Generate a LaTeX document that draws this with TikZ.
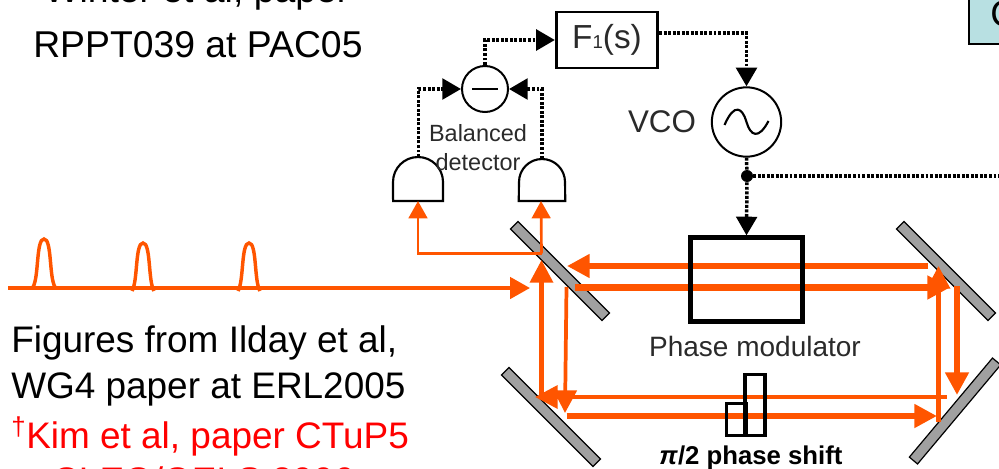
\documentclass[tikz,border=0pt]{standalone}
\usepackage{fontspec}
\setmainfont{Liberation Sans}
\usepackage{xcolor}
\usetikzlibrary{arrows.meta,positioning,calc}
\definecolor{beamOr}{HTML}{FF5500}
\definecolor{mirGray}{HTML}{A0A0A0}
\definecolor{noteBox}{HTML}{B8E0E2}
\definecolor{lblGray}{HTML}{2A2A2A}

\begin{document}
\begin{tikzpicture}[x=0.75pt,y=-0.75pt,
  mirror/.style={rectangle,draw=black,fill=mirGray,line width=0.9pt,minimum width=97pt,minimum height=8pt,inner sep=0pt},
  beamA/.style={beamOr,line width=4.8pt,-{Triangle[length=17pt,width=17pt]}},
  beamB/.style={beamOr,line width=3.4pt,-{Triangle[length=17pt,width=17pt]}},
  beamC/.style={beamOr,line width=2pt,-{Triangle[length=13pt,width=14pt]}},
  sig/.style={black,line width=2.6pt,dash pattern=on 2.2pt off 1.2pt,-{Triangle[length=14pt,width=15.5pt]}},
  sigline/.style={black,line width=2.6pt,dash pattern=on 2.2pt off 1.2pt},
  detect/.style={rectangle,minimum width=37pt,minimum height=16pt,inner sep=0pt},
  circ/.style={circle,draw=black,line width=1.5pt,inner sep=0pt},
  txt/.style={anchor=base west,inner sep=0pt,font=\fontsize{27.7}{27.7}\selectfont},
  lbl/.style={inner sep=0pt,text=lblGray,font=\fontsize{17.6}{17.6}\selectfont}]
  \useasboundingbox (0,0) rectangle (999,468);
  \clip (0,0) rectangle (999,468);

  % side notes
  \node[txt,font=\fontsize{28}{28}\selectfont] (winter) at (44,2) {Winter et al, paper};
  \node[txt,font=\fontsize{28}{28}\selectfont] (rppt) at (33,57) {RPPT039 at PAC05};
  \node[txt] (figs) at (11,352) {Figures from Ilday et al,};
  \node[txt] (wgfour) at (11,398) {WG4 paper at ERL2005};
  \node[txt,text=red] (kim) at (11,448) {\textsuperscript{†}Kim et al, paper CTuP5};
  \node[txt,text=red] (cleo) at (11,493) {at CLEO/QELS 2006};
  \node[rectangle,draw=black,fill=noteBox,line width=1.2pt,minimum width=60pt,minimum height=50pt,anchor=south west,inner sep=0pt] (note) at (968,45) {};
  \node[txt] (noteC) at (990,26) {C};

  % mirrors
  \node[mirror,rotate=-45] (bs) at (560,271) {};
  \node[mirror,rotate=-45] (mTR) at (946,271) {};
  \node[mirror,rotate=-45] (mBL) at (551,417) {};
  \node[mirror,rotate=50] (mBR) at (955,411) {};

  % beam end points
  \coordinate (tA) at (928,266); \coordinate (tB) at (567,266);
  \coordinate (uA) at (575,287.5); \coordinate (uB) at (950,287.5);
  \coordinate (rA) at (957,286); \coordinate (rB) at (957,395);
  \coordinate (wA) at (938.5,422); \coordinate (wB) at (938.5,266);
  \coordinate (lA) at (946.5,397); \coordinate (lB) at (535,397);
  \coordinate (kA) at (566.5,416); \coordinate (kB) at (937,416);
  \coordinate (vA) at (541.5,398); \coordinate (vB) at (541.5,260);
  \coordinate (nA) at (566.5,287); \coordinate (nB) at (565,413);
  \coordinate (in) at (8,288); \coordinate (inEnd) at (530,288);
  \coordinate (pick) at (541.5,253.5); \coordinate (pickL) at (418,253.5);

  % detectors and loop electronics
  \node[detect] (detL) at (418,190) {};
  \node[detect,minimum width=34.5pt] (detR) at (542,190) {};
  \draw[black,line width=1.6pt,fill=white] (detL.south west) -- (393,182) arc[start angle=180,end angle=360,radius=25] -- (detL.south east) -- cycle;
  \draw[black,line width=1.6pt,fill=white] (detR.south west) -- (519,182) arc[start angle=180,end angle=360,radius=23] -- (detR.south east) -- cycle;
  \coordinate (detLtop) at (418.5,157); \coordinate (detRtop) at (542,159);
  \node[circ,minimum size=34.5pt] (sub) at (485,89) {};
  \draw[black,line width=2.2pt] ($(sub.center)+(-13,0)$) -- ($(sub.center)+(13,0)$);
  \node[rectangle,draw=black,line width=2.2pt,minimum width=76pt,minimum height=42pt,inner sep=0pt,font=\fontsize{25}{25}\selectfont,text=lblGray] (fone) at (607,40) {F{\fontsize{14}{14}\selectfont 1}(s)};
  \node[circ,minimum size=52pt] (vco) at (746.5,122) {};
  \draw[black,line width=1.6pt] ($(vco.center)+(-22,3)$) .. controls ($(vco.center)+(-12,-20)$) and ($(vco.center)+(-4,-14)$) .. (vco.center) .. controls ($(vco.center)+(4,14)$) and ($(vco.center)+(12,18)$) .. ($(vco.center)+(22,-1)$);
  \node[inner sep=0pt,text=lblGray,font=\fontsize{23.5}{23.5}\selectfont,left=11pt of vco] (vcoL) {VCO};
  \node[circle,fill=black,minimum size=9pt,inner sep=0pt] (dot) at (747,176) {};
  \coordinate (off) at (999,176);
  \node[lbl] (bal) at (478,133) {Balanced};
  \node[lbl] (det) at (478,162) {detector};

  % feedback signals
  \draw[sig] (sub.north) |- (fone.west);
  \draw[sig] (fone.east |- 0,33) -| (vco.north);
  \draw[sig] (detLtop) |- (sub.west);
  \draw[sig] (detRtop) |- (sub.east);
  \draw[sigline] (vco.south) -- (dot);
  \draw[sigline] (dot) -- (off);

  % laser input with pulses
  \draw[beamOr,line width=2.8pt,-{Triangle[length=15pt,width=16pt]}] (in) -- (inEnd);
  \foreach \px/\py/\pname in {44/239/pa,143/243/pb,249/243/pc}{
    \coordinate (\pname) at (\px,\py);
    \draw[beamOr,line width=2.6pt] ($(\pname)+(-11,48)$) .. controls ($(\pname)+(-5,38)$) and ($(\pname)+(-8,0)$) .. (\pname) .. controls ($(\pname)+(8,0)$) and ($(\pname)+(5,38)$) .. ($(\pname)+(11,48)$);
  }
  \draw[beamC] (pick) -- (pickL) -- (418,201);
  \draw[beamC] (pick) -- (541,201);

  % cavity beams
  \draw[beamA] (tA) -- (tB);
  \draw[beamA] (uA) -- (uB);
  \draw[beamA] (rA) -- (rB);
  \draw[beamB] (wA) -- (wB);
  \draw[beamB] (lA) -- (lB);
  \draw[beamA] (kA) -- (kB);
  \draw[beamB] (vA) -- (vB);
  \draw[beamC,line width=2.8pt,-{Triangle[length=17pt,width=17pt]}] (nA) -- (nB);

  % modulator and phase plate
  \node[rectangle,draw=black,line width=3.2pt,minimum width=84pt,minimum height=63pt,inner sep=0pt] (pm) at (746.5,279.5) {};
  \draw[sig] (dot) -- (pm.north);
  \node[lbl,font=\fontsize{21}{21}\selectfont] (pmL) at (755,346) {Phase modulator};
  \node[rectangle,draw=black,line width=2.4pt,minimum width=15pt,minimum height=46pt,inner sep=0pt] (plateA) at (755,405) {};
  \node[rectangle,draw=black,line width=2.4pt,minimum width=14.5pt,minimum height=24pt,inner sep=0pt] (plateB) at (736.5,419.5) {};
  \node[inner sep=0pt,font=\fontsize{19.3}{19.3}\selectfont\bfseries] (shift) at (751,458) {\textit{π}/2 phase shift};
\end{tikzpicture}
\end{document}
